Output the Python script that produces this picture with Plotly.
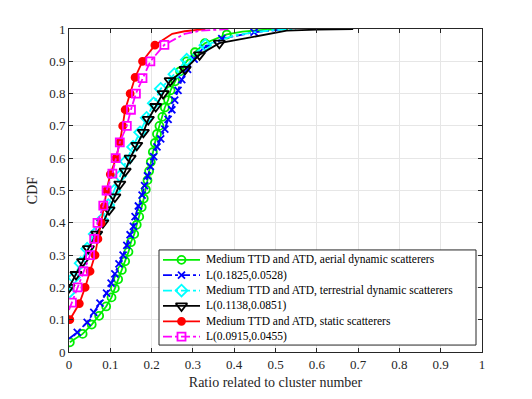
import plotly.graph_objects as go

# --- data (ratio vs CDF) ---
# Medium TTD and ATD, aerial dynamic scatterers (green, circles)
aerial_x = [0.002, 0.033, 0.055, 0.073, 0.09, 0.103, 0.111, 0.119, 0.128, 0.136, 0.144, 0.15,
            0.158, 0.164, 0.17, 0.176, 0.181, 0.186, 0.19, 0.194, 0.198, 0.203, 0.208, 0.213,
            0.219, 0.226, 0.232, 0.24, 0.246, 0.257, 0.269, 0.285, 0.305, 0.329, 0.382]
aerial_cdf = [0.03, 0.056, 0.085, 0.112, 0.141, 0.169, 0.197, 0.225, 0.254, 0.281, 0.31, 0.34,
              0.365, 0.394, 0.419, 0.448, 0.475, 0.503, 0.532, 0.56, 0.588, 0.619, 0.647, 0.675,
              0.70, 0.728, 0.757, 0.78, 0.81, 0.838, 0.869, 0.90, 0.928, 0.956, 0.983]
aerial_tail_x = [0.42, 0.47, 0.53]
aerial_tail_cdf = [0.992, 0.997, 1.0]

# L(0.1825,0.0528) (blue, x)
l1_head_x, l1_head_cdf = [0.0], [0.041]
l1_x = [0.02, 0.044, 0.06, 0.075, 0.091, 0.102, 0.111, 0.121, 0.131, 0.14, 0.148, 0.156, 0.16,
        0.168, 0.177, 0.183, 0.19, 0.197, 0.205, 0.213, 0.222, 0.232, 0.24, 0.249, 0.256,
        0.264, 0.273, 0.287, 0.303, 0.325, 0.37, 0.448]
l1_cdf = [0.061, 0.092, 0.123, 0.151, 0.182, 0.213, 0.242, 0.273, 0.30, 0.33, 0.363, 0.389, 0.419,
          0.452, 0.486, 0.515, 0.545, 0.575, 0.605, 0.635, 0.66, 0.69, 0.72, 0.75, 0.78,
          0.81, 0.843, 0.875, 0.907, 0.94, 0.97, 0.99]
l1_tail_x = [0.5, 0.53]
l1_tail_cdf = [0.997, 1.0]

# Medium TTD and ATD, terrestrial dynamic scatterers (cyan, diamonds)
terr_x = [0.0, 0.012, 0.028, 0.044, 0.062, 0.08, 0.095, 0.11, 0.124, 0.138, 0.155, 0.172,
          0.188, 0.205, 0.222, 0.255, 0.285, 0.33]
terr_cdf = [0.185, 0.23, 0.275, 0.32, 0.365, 0.41, 0.455, 0.50, 0.545, 0.59, 0.635, 0.68,
            0.725, 0.77, 0.815, 0.86, 0.905, 0.95]
terr_tail_x = [0.4, 0.45, 0.5, 0.55]
terr_tail_cdf = [0.98, 0.99, 0.997, 1.0]

# L(0.1138,0.0851) (black, triangles)
l2_x = [0.0, 0.017, 0.033, 0.047, 0.067, 0.082, 0.097, 0.111, 0.123, 0.136, 0.148, 0.164,
        0.18, 0.192, 0.21, 0.228, 0.245, 0.281, 0.316, 0.364]
l2_cdf = [0.20, 0.24, 0.28, 0.32, 0.365, 0.40, 0.44, 0.48, 0.52, 0.56, 0.60, 0.64,
          0.68, 0.72, 0.76, 0.80, 0.84, 0.875, 0.92, 0.956]
l2_tail_x = [0.43, 0.462, 0.527, 0.6, 0.688]
l2_tail_cdf = [0.971, 0.98, 0.995, 0.998, 1.0]

# Medium TTD and ATD, static scatterers (red, filled)
static_head_x, static_head_cdf = [0.0], [0.087]
static_x = [0.002, 0.025, 0.039, 0.051, 0.063, 0.07, 0.078, 0.085, 0.091, 0.1, 0.114, 0.123,
            0.13, 0.136, 0.148, 0.16, 0.178, 0.208]
static_cdf = [0.10, 0.15, 0.20, 0.25, 0.30, 0.35, 0.40, 0.45, 0.50, 0.55, 0.60, 0.65,
              0.70, 0.75, 0.80, 0.85, 0.90, 0.95]
static_tail_x = [0.25, 0.28, 0.33]
static_tail_cdf = [0.985, 0.993, 1.0]

# L(0.0915,0.0455) (magenta, squares)
l3_head_x, l3_head_cdf = [0.0], [0.13]
l3_x = [0.007, 0.021, 0.035, 0.051, 0.061, 0.069, 0.083, 0.091, 0.105, 0.113, 0.123, 0.14,
        0.15, 0.162, 0.178, 0.197, 0.231]
l3_cdf = [0.153, 0.20, 0.25, 0.30, 0.35, 0.40, 0.453, 0.50, 0.552, 0.60, 0.649, 0.70,
          0.75, 0.80, 0.848, 0.90, 0.951]
l3_tail_x = [0.28, 0.32, 0.39]
l3_tail_cdf = [0.985, 0.995, 1.0]

tick_vals = [0, 0.1, 0.2, 0.3, 0.4, 0.5, 0.6, 0.7, 0.8, 0.9, 1]
tick_text = ["0", "0.1", "0.2", "0.3", "0.4", "0.5", "0.6", "0.7", "0.8", "0.9", "1"]

series = [
    ("Medium TTD and ATD, aerial dynamic scatterers", [], [], aerial_x, aerial_cdf,
     aerial_tail_x, aerial_tail_cdf, "#00ee00", "solid", "circle-open", 8),
    ("L(0.1825,0.0528)", l1_head_x, l1_head_cdf, l1_x, l1_cdf, l1_tail_x, l1_tail_cdf,
     "#0000ff", "dashdot", "x-thin-open", 7),
    ("Medium TTD and ATD, terrestrial dynamic scatterers", [], [], terr_x, terr_cdf,
     terr_tail_x, terr_tail_cdf, "#00ffff", "dashdot", "diamond-open", 9),
    ("L(0.1138,0.0851)", [], [], l2_x, l2_cdf, l2_tail_x, l2_tail_cdf,
     "#000000", "solid", "triangle-down-open", 10),
    ("Medium TTD and ATD, static scatterers", static_head_x, static_head_cdf, static_x,
     static_cdf, static_tail_x, static_tail_cdf, "#ff0000", "solid", "circle", 7),
    ("L(0.0915,0.0455)", l3_head_x, l3_head_cdf, l3_x, l3_cdf, l3_tail_x, l3_tail_cdf,
     "#ff00ff", "dashdot", "square-open", 8),
]

SERIF = "Liberation Serif"
INK = "#262626"

fig = go.Figure()
for name, hx, hy, mx, my, tx, ty, color, dash, symbol, size in series:
    marker = dict(symbol=symbol, size=size, color=color, line=dict(color=color, width=1.8))
    fig.add_trace(go.Scatter(x=hx + mx + tx, y=hy + my + ty, mode="lines", name=name,
                             line=dict(color=color, width=1.8, dash=dash),
                             showlegend=False, hoverinfo="skip"))
    fig.add_trace(go.Scatter(x=mx, y=my, mode="markers", marker=marker, name=name,
                             showlegend=False, hoverinfo="skip"))

# Legend drawn by hand on a hidden overlay axis in plot pixels, so the rows
# can be as tight as the MATLAB-style legend (plotly's rows are too tall).
box_l, box_r, box_t, box_b = 90, 407, 103, 7
row_top, row_step = 93, 15.5
fig.add_trace(go.Scatter(x=[box_l, box_r, box_r, box_l, box_l],
                         y=[box_b, box_b, box_t, box_t, box_b],
                         xaxis="x2", yaxis="y2", mode="lines", fill="toself",
                         fillcolor="white", line=dict(color=INK, width=1),
                         showlegend=False, hoverinfo="skip"))
for i, (name, *_rest, color, dash, symbol, size) in enumerate(series):
    yy = row_top - i * row_step
    fig.add_trace(go.Scatter(x=[94, 131], y=[yy, yy], xaxis="x2", yaxis="y2", mode="lines",
                             line=dict(color=color, width=1.8, dash=dash),
                             showlegend=False, hoverinfo="skip"))
    fig.add_trace(go.Scatter(x=[112.5], y=[yy], xaxis="x2", yaxis="y2", mode="markers",
                             marker=dict(symbol=symbol, size=size, color=color,
                                         line=dict(color=color, width=1.8)),
                             showlegend=False, hoverinfo="skip"))
    fig.add_annotation(x=135, y=yy, xref="x2", yref="y2", text=name, showarrow=False,
                       xanchor="left", yanchor="middle",
                       font=dict(family=SERIF, size=11.5, color="#000000"))

axis_common = dict(
    showline=True, linecolor=INK, linewidth=1, mirror="ticks",
    ticks="inside", ticklen=4, tickcolor=INK,
    showgrid=True, gridcolor="#e6e6e6", gridwidth=1, zeroline=False,
    tickfont=dict(family=SERIF, size=13, color=INK),
)

fig.update_xaxes(range=[0, 1], tickvals=tick_vals, ticktext=tick_text,
                 title=dict(text="Ratio related to cluster number", standoff=6,
                            font=dict(family=SERIF, size=14, color=INK)),
                 **axis_common)
fig.update_yaxes(range=[0, 1], tickvals=tick_vals, ticktext=tick_text,
                 title=dict(text="CDF", standoff=8,
                            font=dict(family=SERIF, size=14, color=INK)),
                 **axis_common)

fig.update_layout(
    width=524, height=391,
    margin=dict(l=61, r=50, t=21, b=44),
    paper_bgcolor="white", plot_bgcolor="white",
    font=dict(family=SERIF, color=INK),
    showlegend=False,
    xaxis2=dict(overlaying="x", range=[0, 413], visible=False, fixedrange=True),
    yaxis2=dict(overlaying="y", range=[0, 326], visible=False, fixedrange=True),
)

fig.write_html("out.html")
